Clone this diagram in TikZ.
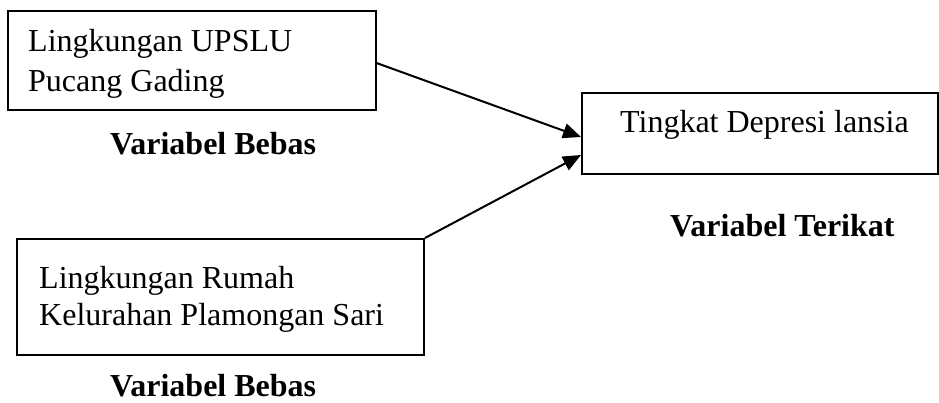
\documentclass[tikz,border=0pt]{standalone}
\usepackage{fontspec}
\setmainfont{Liberation Serif}
\usetikzlibrary{arrows.meta}
\begin{document}
\begin{tikzpicture}[x=1pt,y=-1pt,
  box/.style={draw=black,line width=2pt,rectangle,inner sep=0pt},
  txt/.style={inner sep=0pt,anchor=base west,font=\fontsize{32}{40}\selectfont},
  lbl/.style={inner sep=0pt,anchor=base west,font=\fontsize{32}{40}\selectfont\bfseries},
  arr/.style={line width=2pt,-{Triangle[length=18pt,width=15pt]}}]
\useasboundingbox (0,0) rectangle (939,403);
% boxes
\node[box,minimum width=368pt,minimum height=99pt] (b1) at (191.5,60.5) {};
\node[box,minimum width=356pt,minimum height=81pt] (b2) at (760,133.5) {};
\node[box,minimum width=407pt,minimum height=116pt] (b3) at (220.5,297) {};
% texts
\node[txt] (t1a) at (28,52) {Lingkungan UPSLU};
\node[txt] (t1b) at (28,92) {Pucang Gading};
\node[lbl] (l1) at (110,155) {Variabel Bebas};
\node[txt] (t2) at (620,133) {Tingkat Depresi lansia};
\node[lbl] (l2) at (670,237) {Variabel Terikat};
\node[txt] (t3a) at (39,288) {Lingkungan Rumah};
\node[txt] (t3b) at (39,325) {Kelurahan Plamongan Sari};
\node[lbl] (l3) at (110,396) {Variabel Bebas};
% arrows
\draw[arr] ([yshift=-2.5pt]b1.east) -- ([yshift=-3.5pt]b2.west);
\draw[arr] (b3.north east) -- ([yshift=-21.5pt]b2.west);
\end{tikzpicture}
\end{document}
